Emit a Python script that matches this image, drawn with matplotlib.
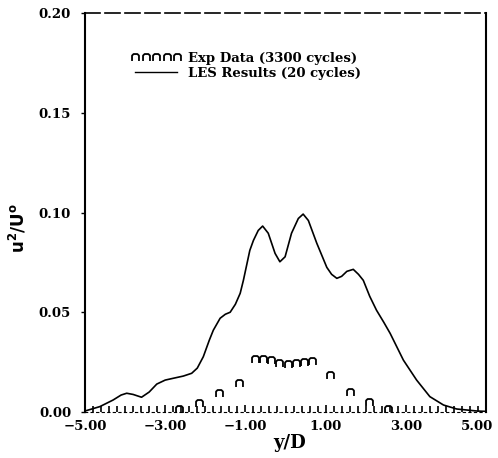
import matplotlib
matplotlib.use("Agg")
import matplotlib.pyplot as plt
from matplotlib.path import Path
from matplotlib.lines import Line2D
from matplotlib.transforms import ScaledTranslation
import numpy as np

# LES profile of u^2/U_o across the wake (y/D)
les_y = [-5.0, -4.63, -4.3, -4.1, -3.96, -3.8, -3.59, -3.4, -3.21, -3.0,
         -2.8, -2.55, -2.34, -2.2, -2.05, -1.9, -1.8, -1.63, -1.5, -1.38,
         -1.25, -1.13, -1.05, -0.89, -0.8, -0.68, -0.57, -0.43, -0.26, -0.14,
         -0.01, 0.15, 0.32, 0.44, 0.57, 0.78, 1.03, 1.15, 1.28, 1.4,
         1.53, 1.69, 1.82, 1.94, 2.1, 2.27, 2.45, 2.61, 2.94, 3.27,
         3.6, 3.94, 4.27, 4.77, 5.0]
les_u = [0.0005, 0.0027, 0.0060, 0.0085, 0.0094, 0.0088, 0.0074, 0.0100, 0.0140, 0.0160,
         0.0169, 0.0180, 0.0194, 0.0220, 0.0277, 0.0360, 0.0410, 0.0470, 0.0490, 0.0500,
         0.0540, 0.0595, 0.0660, 0.0810, 0.0860, 0.0910, 0.0932, 0.0896, 0.0795, 0.0753,
         0.0778, 0.0896, 0.0970, 0.0992, 0.0960, 0.0846, 0.0725, 0.0690, 0.0670, 0.0680,
         0.0705, 0.0715, 0.0690, 0.0660, 0.0580, 0.0510, 0.0450, 0.0394, 0.0260, 0.0160,
         0.0077, 0.0035, 0.0015, 0.0005, 0.0003]

# Experimental profile (3300 cycles)
exp_y = [-2.65, -2.15, -1.65, -1.15, -0.75, -0.55, -0.35, -0.15, 0.05, 0.25,
         0.45, 0.65, 1.10, 1.60, 2.08, 2.55]
exp_u = [0.0015, 0.0047, 0.0094, 0.0145, 0.0266, 0.0266, 0.0262, 0.0245, 0.0240, 0.0245,
         0.0252, 0.0256, 0.0185, 0.0102, 0.0052, 0.0015]

x_ticks = [-5.0, -3.0, -1.0, 1.0, 3.0, 5.0]
y_ticks = [0.0, 0.05, 0.10, 0.15, 0.20]

FONT = "DejaVu Serif"

# arch-shaped open marker
arch = Path([(-1, -1), (-1, 0.55), (-0.55, 1), (0.55, 1), (1, 0.55), (1, -1)],
            [Path.MOVETO, Path.LINETO, Path.LINETO, Path.LINETO, Path.LINETO, Path.LINETO])

W, H = 498, 458
fig = plt.figure(figsize=(W / 100, H / 100), dpi=100)
ax = fig.add_axes([85 / W, 1 - 412 / H, (486 - 85) / W, (412 - 13) / H])

ax.plot(les_y, les_u, color="black", lw=1.2, solid_capstyle="round")
ax.plot(exp_y, exp_u, linestyle="none", marker=arch, ms=5, mew=1.3,
        mec="black", mfc="none")

ax.set_xlim(-5, 5)
ax.set_ylim(0, 0.20)
ax.set_xticks(x_ticks)
ax.set_xticklabels([f"{v:.2f}".replace("-", "\u2212") for v in x_ticks])
ax.set_yticks(y_ticks)
ax.set_yticklabels([f"{v:.2f}" for v in y_ticks])
ax.set_xticks(np.arange(-5, 5.01, 0.2), minor=True)

ax.tick_params(axis="x", which="major", direction="in", length=5, width=1.2, pad=6)
ax.tick_params(axis="x", which="minor", direction="in", length=4, width=1.2)
ax.tick_params(axis="y", which="major", direction="out", length=3, width=1.0, pad=7)
ax.tick_params(top=False, right=False)

for lab in ax.get_xticklabels() + ax.get_yticklabels():
    lab.set_fontfamily(FONT)
    lab.set_fontweight("bold")
    lab.set_fontsize(9.5)

# keep the last x label inside the figure edge
last = ax.get_xticklabels()[-1]
last.set_transform(last.get_transform() + ScaledTranslation(-9 / 100, 0, fig.dpi_scale_trans))

for side in ("left", "right"):
    ax.spines[side].set_linewidth(1.5)
ax.spines["top"].set_linewidth(1.2)
ax.spines["top"].set_linestyle((0, (9, 3)))
ax.spines["bottom"].set_linewidth(0.8)
ax.spines["bottom"].set_linestyle((0, (2, 3)))

ax.set_xlabel("y/D", fontfamily=FONT, fontweight="bold", fontsize=13)
ax.xaxis.set_label_coords((290 - 85) / (486 - 85), -(434 - 412) / (412 - 13))
ax.set_ylabel(r"$\mathbf{u^2/U^{o}}$", fontsize=12, rotation=90)
ax.yaxis.set_label_coords(-(85 - 28) / (486 - 85), (412 - 228) / (412 - 13))

handles = [
    Line2D([], [], linestyle="none", marker=arch, ms=5, mew=1.3, mec="black", mfc="none"),
    Line2D([], [], color="black", lw=1.0),
]
labels = ["Exp Data (3300 cycles)", "LES Results (20 cycles)"]
leg = ax.legend(handles, labels, loc="upper left", frameon=False, numpoints=5,
                bbox_to_anchor=((131 - 85) / (486 - 85), (412 - 52) / (412 - 13)),
                handlelength=3.8, handletextpad=0.55, labelspacing=0.15,
                borderaxespad=0, borderpad=0,
                prop={"family": FONT, "weight": "bold", "size": 9.5})

fig.savefig("out.png", dpi=100)
